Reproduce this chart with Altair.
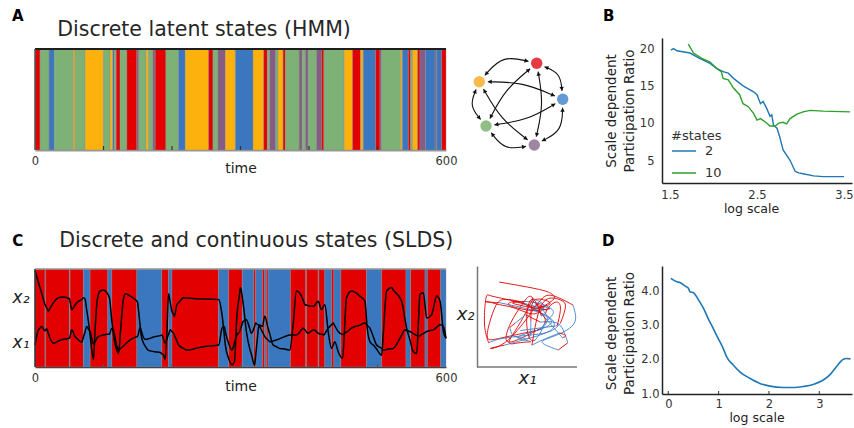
import math
import bisect
import altair as alt
import numpy as np
import pandas as pd

FONT = "DejaVu Sans"

# ---------------- Panel A : HMM discrete states ----------------
a_start = [0, 7.3, 20.5, 28.3, 56.1, 58.5, 73.1, 99.9, 109.7, 113.6, 116.0, 118.5, 124.3, 134.1,
           148.7, 151.6, 162.3, 165.7, 172.1, 175.5, 191.1, 209.6, 219.4, 253.5, 259.8, 267.1,
           277.9, 292.5, 318.3, 333.9, 339.3, 342.7, 351.5, 354.9, 362.2, 365.6, 385.6, 390.0,
           394.8, 398.7, 410.9, 418.2, 421.7, 451.4, 463.6, 475.3, 479.2, 497.2, 503.6, 506.0,
           533.8, 536.2, 545.0, 548.4, 551.3, 558.6, 562.0, 570.3, 584.0, 586.4, 593.7]
a_state = ["red", "green", "blue", "green", "orange", "green", "orange", "green", "orange", "blue",
           "green", "red", "green", "red", "purple", "green", "orange", "green", "purple", "red",
           "green", "blue", "orange", "red", "green", "purple", "orange", "blue", "orange", "red",
           "green", "purple", "green", "orange", "red", "green", "purple", "green", "purple", "green",
           "purple", "red", "green", "orange", "red", "orange", "blue", "red", "purple", "green",
           "orange", "blue", "red", "green", "orange", "red", "purple", "blue", "purple", "blue", "red"]
time_ticks = [100, 200, 300, 400, 500]

# graph of the 5 HMM states (layout positions)
node_name = ["orange", "red", "blue", "purple", "green"]
node_x = [-0.954, 0.194, 0.714, 0.146, -0.82]
node_y = [0.576, 0.944, 0.224, -0.69, -0.31]
edge_src = [0, 1, 2, 3, 4, 0, 0, 1, 1, 2]
edge_dst = [1, 2, 3, 4, 0, 2, 3, 3, 4, 4]

# ---------------- Panel B ----------------
b2_x = [1.51, 1.54, 1.58, 1.73, 1.84, 1.96, 2.04, 2.11, 2.17, 2.23, 2.34, 2.46, 2.50, 2.54, 2.57,
        2.61, 2.65, 2.67, 2.69, 2.73, 2.76, 2.80, 2.88, 2.94, 2.98, 3.03, 3.15, 3.26, 3.50]
b2_y = [19.9, 20.1, 19.8, 19.5, 18.8, 18.1, 17.4, 17.0, 16.8, 16.1, 15.1, 14.3, 13.9, 12.7, 13.0,
        12.1, 11.0, 11.2, 9.8, 9.4, 8.3, 6.5, 5.1, 3.6, 3.4, 3.3, 3.0, 2.9, 2.9]
b10_x = [1.71, 1.77, 1.81, 1.88, 1.96, 2.04, 2.09, 2.11, 2.17, 2.23, 2.30, 2.34, 2.40, 2.46, 2.50,
         2.54, 2.61, 2.65, 2.71, 2.75, 2.80, 2.84, 2.88, 2.96, 3.03, 3.11, 3.26, 3.57]
b10_y = [20.7, 19.5, 19.2, 18.7, 18.3, 17.4, 17.0, 16.1, 15.9, 14.8, 13.9, 12.7, 12.3, 11.4, 10.5,
         10.7, 10.1, 9.7, 9.7, 10.1, 10.2, 10.0, 10.7, 11.3, 11.6, 11.8, 11.7, 11.6]

# ---------------- Panel C : SLDS ----------------
c_start = [0, 14.6, 15.6, 50.2, 51.2, 70.7, 80.4, 106.3, 112.1, 148.7, 185.2, 195.0, 199.9, 268.1,
           282.7, 302.7, 319.3, 322.2, 332.0, 335.4, 337.8, 340.3, 372.9, 395.3, 396.3, 413.4,
           414.4, 423.1, 432.9, 436.3, 446.5, 484.1, 506.0, 541.6, 548.4, 569.4, 572.8, 592.3]
c_state = ["red", "blue"] * 19

lat_t = [0, 4.9, 7.3, 9.7, 14.6, 17.1, 19.5, 21.0, 26.8, 34.1, 41.4, 50.2, 53.6, 58.5, 60.9, 68.2,
         70.7, 73.1, 75.6,
         78.0, 80.4, 82.9, 85.3, 88.0, 91.0, 95.0, 100.0, 104.8, 108.7, 112.0, 115.0, 119.4, 122.0,
         125.0, 129.0, 132.0, 139.0, 146.2, 149.6, 152.0, 153.6, 155.0, 157.0, 160.9, 165.0, 170.6,
         175.0, 182.8, 185.2, 187.7, 190.1,
         192.6, 195.0, 197.4, 199.9, 202.3, 203.3,
         207.2, 209.6, 216.9, 221.8, 236.4, 246.2, 268.1, 273.0, 276.4, 277.9, 282.7, 287.6,
         291.0, 294.9, 298.8, 299.8, 301.3, 303.7, 304.7, 308.6, 313.4, 315.9, 320.7, 322.2,
         324.2, 327.1, 332.0, 335.4, 340.2, 342.7, 347.6, 352.4, 357.3, 364.6, 371.9, 376.8,
         381.7, 389.0, 391.4, 393.9, 398.7, 401.2, 407.0, 413.4, 418.2, 421.7, 423.1, 428.0,
         432.9, 435.3, 437.7, 442.6, 449.0, 454.8, 462.1, 474.3, 481.6, 485.0, 488.9, 493.8,
         498.7, 506.0, 508.4, 513.3, 520.6, 523.0, 535.2, 540.1, 542.5, 547.4, 552.3, 557.2,
         559.6, 562.0, 566.9, 571.8, 579.1, 581.5, 586.4, 591.3, 596.2, 600]
lat_x2 = [285, 251, 235, 219, 185, 175, 165, 170, 190, 205, 207, 202, 170, 183, 190, 200, 205, 200,
          167,
          135, 96, 50, 22, 120, 200, 225, 228, 220, 205, 140, 90, 50, 40, 110, 200, 217, 210, 200,
          192, 150, 120, 95, 78, 62, 50, 47, 45, 43, 39, 35, 22,
          105, 217, 192, 165, 155, 150, 185, 190, 205,
          204, 202, 201, 200, 155, 93, 65, 25, 7, 15, 155, 219, 235, 225, 190, 175, 105, 55, 38, 5,
          35, 75, 125, 120, 150, 115, 98, 65, 60, 55, 53, 50, 125, 225, 210, 198, 185, 182, 180,
          180, 195, 170, 181, 185, 105, 55, 65, 75, 45, 25, 205, 225, 210, 195, 115, 75, 65, 53, 35,
          97, 225, 235, 228, 195, 141, 115, 80, 45, 40, 128, 215, 220, 145, 155, 173, 210, 195, 105, 85]
lat_x1 = [65, 110, 115, 120, 107, 113, 99, 90, 70, 77, 82, 85, 110, 90, 85, 73, 89, 104, 120,
          112, 105, 85, 68, 75, 88, 92, 95, 97, 97, 115, 105, 62, 52, 55, 62, 68, 80, 88, 90, 108,
          118, 108, 95, 82, 83, 87, 90, 93, 95, 82, 70,
          84, 97, 110, 105, 100, 95, 77, 65, 55, 50, 56, 60,
          65, 115, 120, 104, 70, 50, 70, 95, 105, 111, 120, 135, 136, 140, 114, 100, 121, 130, 127,
          122, 104, 90, 80, 75, 77, 80, 84, 90, 95, 95, 95, 110, 115, 110, 100, 103, 110, 100, 97,
          95, 99, 115, 125, 130, 122, 105, 96, 103, 115, 124, 130, 123, 115, 90, 65, 55, 50, 52,
          54, 55, 94, 110, 108, 105, 99, 93, 90, 93, 99, 105, 109, 110, 118, 125, 120, 85]

# ---------------- Panel D ----------------
d_x = [0.05, 0.17, 0.23, 0.33, 0.40, 0.43, 0.50, 0.60, 0.70, 0.79, 0.89, 0.99, 1.09, 1.16, 1.29,
       1.42, 1.62, 1.82, 2.02, 2.28, 2.48, 2.68, 2.88, 3.08, 3.21, 3.34, 3.48, 3.54, 3.62]
d_y = [4.39, 4.29, 4.27, 4.17, 4.10, 4.00, 3.97, 3.76, 3.51, 3.22, 2.93, 2.63, 2.34, 2.09, 1.85,
       1.65, 1.46, 1.31, 1.23, 1.19, 1.19, 1.22, 1.28, 1.41, 1.56, 1.80, 2.02, 2.04, 2.03]

# ---------------- styles ----------------
HMM_COLORS = {"red": "#e50000", "blue": "#3a77bf", "green": "#7eb176",
              "orange": "#fdb10d", "purple": "#845d84"}
NODE_COLORS = {"orange": "#f8b640", "red": "#e6303a", "blue": "#5d94d2",
               "purple": "#9a80a0", "green": "#8bbb80"}
SLDS_COLORS = {"red": "#e30000", "blue": "#3a77bf"}
PHASE_COLORS = {"red": "#e00000", "blue": "#3f7fc8"}
BLUE, GREEN = "#1f77b4", "#2ca02c"

W1, W2, W3 = 411, 154, 190     # column widths (column 2 includes the gap before column 3)
PW = 100                        # visible width of the phase-plot axes
HA, HB, HC, HD = 112, 145, 101, 128


def text_layer(txt, x, y, size, weight="normal", color="#222"):
    return alt.Chart(pd.DataFrame({"label": [txt]})).mark_text(
        align="left", baseline="alphabetic", fontSize=size, fontWeight=weight,
        font=FONT, color=color).encode(text="label:N", x=alt.value(x), y=alt.value(y))


def time_axis(title_y, dcolor, dwidth):
    return alt.Axis(values=[0, 600], title="time", labelFlush=False, ticks=False, grid=False,
                    labelPadding=5, labelFontSize=11.5, titleFontSize=14,
                    titleBaseline="alphabetic", titleY=title_y,
                    domainColor=dcolor, domainWidth=dwidth)

# ---------------- build panel A ----------------
a_df = pd.DataFrame({"start": a_start, "end": a_start[1:] + [600], "state": a_state})
a_df["fill"] = a_df["state"].map(HMM_COLORS)
a_df["lo"] = 0.0
a_df["hi"] = 1.0
strip_a = alt.Chart(a_df).mark_rect(stroke="#8c8c8c", strokeWidth=0.4).encode(
    x=alt.X("start:Q", scale=alt.Scale(domain=[0, 600], nice=False, zero=False),
            axis=time_axis(22.5, "#9a9a9a", 2)),
    x2="end:Q",
    y=alt.Y("lo:Q", scale=alt.Scale(domain=[0, HA / 101], nice=False, zero=False), axis=None),
    y2="hi:Q",
    fill=alt.Fill("fill:N", scale=None))
frame_a = pd.DataFrame({"x": [0], "x2": [600], "y": [1.0], "y0": [0.0]})
top_a = alt.Chart(frame_a).mark_rule(color="#1e1e1e", strokeWidth=2).encode(x="x:Q", x2="x2:Q", y="y:Q")
left_a = alt.Chart(frame_a).mark_rule(color="#555", strokeWidth=1.5).encode(x="x:Q", y="y0:Q", y2="y:Q")
ticks_a = alt.Chart(pd.DataFrame({"t": time_ticks})).mark_rule(color="#333", strokeWidth=1.2).encode(
    x="t:Q", y=alt.value(HA), y2=alt.value(HA - 4))
panel_a = alt.layer(strip_a, top_a, left_a, ticks_a,
                    text_layer("A", -23, -17.3, 15, "bold", "#000"),
                    text_layer("Discrete latent states (HMM)", 22.3, -2, 20.5, "normal", "#262626")
                    ).properties(width=W1, height=HA)

# ---------------- graph panel ----------------
R_NODE = 0.17
cxm, cym = float(np.mean(node_x)), float(np.mean(node_y))
edge_rows, arrow_rows = [], []
for e, (i, j) in enumerate(zip(edge_src, edge_dst)):
    adjacent = (j - i) % 5 in (1, 4)
    bend = 0.3 if adjacent else 0.1
    p0 = np.array([node_x[i], node_y[i]])
    p1 = np.array([node_x[j], node_y[j]])
    m = (p0 + p1) / 2
    d = p1 - p0
    L = float(np.hypot(*d))
    n = np.array([-d[1], d[0]]) / L
    if np.dot(n, m - np.array([cxm, cym])) < 0:
        n = -n
    c = m + n * bend * L
    s = p0 + (c - p0) / np.linalg.norm(c - p0) * R_NODE
    t_ = p1 + (c - p1) / np.linalg.norm(c - p1) * R_NODE
    for k, p in enumerate([s, c, t_]):
        edge_rows.append({"edge": e, "k": k, "x": p[0], "y": p[1]})
    for tip, frm in [(s, c), (t_, c)]:
        v = tip - frm
        v = v / np.linalg.norm(v)
        pos = tip - v * 0.04
        ang = math.degrees(math.atan2(v[0], v[1])) % 360
        arrow_rows.append({"x": pos[0], "y": pos[1], "ang": ang})
edge_df = pd.DataFrame(edge_rows)
arrow_df = pd.DataFrame(arrow_rows)
node_df = pd.DataFrame({"x": node_x, "y": node_y, "name": node_name})
node_df["fill"] = node_df["name"].map(NODE_COLORS)
gx = alt.X("x:Q", scale=alt.Scale(domain=[-1, -1 + W2 / 50], nice=False, zero=False), axis=None)
gy = alt.Y("y:Q", scale=alt.Scale(domain=[-1.45, 1.45], nice=False, zero=False), axis=None)
edges = alt.Chart(edge_df).mark_line(color="#111", strokeWidth=1.1, interpolate="basis").encode(
    x=gx, y=gy, detail="edge:N", order="k:Q")
arrows = alt.Chart(arrow_df).mark_point(shape="triangle-up", filled=True, size=20, color="#111",
                                        opacity=1).encode(x="x:Q", y="y:Q", angle=alt.Angle("ang:Q", scale=None))
nodes = alt.Chart(node_df).mark_circle(size=130, opacity=0.95).encode(
    x="x:Q", y="y:Q", fill=alt.Fill("fill:N", scale=None))
panel_g = alt.layer(edges, nodes, arrows).properties(width=W2, height=HB)

# ---------------- panel B ----------------
b_df = pd.concat([pd.DataFrame({"x": b2_x, "y": b2_y, "states": "2"}),
                  pd.DataFrame({"x": b10_x, "y": b10_y, "states": "10"})])
legend_b = alt.Legend(title="#states", orient="none", legendX=9, legendY=92, symbolType="stroke",
                      symbolSize=576, symbolStrokeWidth=1.5, labelFontSize=13, titleFontSize=13,
                      titleFontWeight="normal", titleColor="#333", labelColor="#333", rowPadding=2,
                      labelOffset=8, titlePadding=-5, padding=0, labelFont=FONT, titleFont=FONT)
y_title = ["Scale dependent", "Participation Ratio"]
lines_b = alt.Chart(b_df).mark_line(strokeWidth=1.4).encode(
    x=alt.X("x:Q", scale=alt.Scale(domain=[1.408, 3.592], nice=False, zero=False),
            axis=alt.Axis(values=[1.5, 2.5, 3.5], format=".1f", labelFlush=False, ticks=False,
                          grid=False, domainColor="#222", domainWidth=1.5, labelPadding=6,
                          labelFontSize=11.5, title="log scale", titleFontSize=12.5,
                          titleBaseline="alphabetic", titleY=29.5, titleX=89)),
    y=alt.Y("y:Q", scale=alt.Scale(domain=[2.05, 21.52], nice=False, zero=False),
            axis=alt.Axis(values=[5, 10, 15, 20], ticks=False, grid=False, domainColor="#222",
                          domainWidth=1.5, labelPadding=8, labelFontSize=11.5, title=y_title,
                          titleFontSize=13.5, titleLineHeight=18, titleAngle=270,
                          titleAlign="center", titleBaseline="alphabetic", titleX=-47, titleY=72.5)),
    color=alt.Color("states:N", scale=alt.Scale(domain=["2", "10"], range=[BLUE, GREEN]), legend=legend_b),
    detail="states:N")
panel_b = alt.layer(lines_b, text_layer("B", -59, -17.3, 15, "bold", "#000")).properties(width=W3, height=HB)

# ---------------- panel C ----------------
c_df = pd.DataFrame({"start": c_start, "end": c_start[1:] + [600], "state": c_state})
c_df["fill"] = c_df["state"].map(SLDS_COLORS)
c_df["lo"] = 0.0
c_df["hi"] = 290.0
strip_c = alt.Chart(c_df).mark_rect(stroke="#8c8c8c", strokeWidth=0.4).encode(
    x=alt.X("start:Q", scale=alt.Scale(domain=[0, 600], nice=False, zero=False),
            axis=time_axis(23, "#333", 1.5)),
    x2="end:Q",
    y=alt.Y("lo:Q", scale=alt.Scale(domain=[0, 299], nice=False, zero=False),
            axis=alt.Axis(values=[74, 207], labelExpr="datum.value > 150 ? 'x₂' : 'x₁'",
                          labelFontStyle="italic", labelFontSize=17, labelColor="#222",
                          ticks=False, domain=False, grid=False, labelPadding=6, title=None)),
    y2="hi:Q",
    fill=alt.Fill("fill:N", scale=None))
lat_df = pd.concat([pd.DataFrame({"t": lat_t, "v": lat_x2, "series": "x2"}),
                    pd.DataFrame({"t": lat_t, "v": lat_x1, "series": "x1"})])
lines_c = alt.Chart(lat_df).mark_line(color="#000", strokeWidth=1.5, interpolate="monotone").encode(
    x="t:Q", y="v:Q", detail="series:N")
frame_c = pd.DataFrame({"x": [0], "x2": [600], "y": [290.0], "y0": [0.0]})
top_c = alt.Chart(frame_c).mark_rule(color="#9a9a9a", strokeWidth=1.5).encode(x="x:Q", x2="x2:Q", y="y:Q")
left_c = alt.Chart(frame_c).mark_rule(color="#333", strokeWidth=1.5).encode(x="x:Q", y="y0:Q", y2="y:Q")
ticks_c = alt.Chart(pd.DataFrame({"t": time_ticks})).mark_rule(color="#555", strokeWidth=1).encode(
    x="t:Q", y=alt.value(HC), y2=alt.value(HC - 3))
panel_c = alt.layer(strip_c, lines_c, top_c, left_c, ticks_c,
                    text_layer("C", -22.7, -20.3, 15, "bold", "#000"),
                    text_layer("Discrete and continuous states (SLDS)", 24.3, -19.3, 20.5, "normal", "#262626")
                    ).properties(width=W1, height=HC)

# ---------------- phase panel ----------------
pt_state = [c_state[bisect.bisect_right(c_start, tt) - 1] for tt in lat_t]
rows = []
run = 0
for i in range(len(lat_t)):
    if i > 0 and pt_state[i] != pt_state[i - 1]:
        rows.append({"run": run, "k": i, "x1": lat_x1[i], "x2": lat_x2[i], "state": pt_state[i - 1]})
        run += 1
    rows.append({"run": run, "k": i, "x1": lat_x1[i], "x2": lat_x2[i], "state": pt_state[i]})
ph_df = pd.DataFrame(rows)
ph_df["col"] = ph_df["state"].map(PHASE_COLORS)
x1_per_px = 0.947
phase_lines = alt.Chart(ph_df).mark_line(strokeWidth=0.9, interpolate="basis").encode(
    x=alt.X("x1:Q", scale=alt.Scale(domain=[44, 44 + W2 * x1_per_px], nice=False, zero=False),
            axis=alt.Axis(labels=False, ticks=False, grid=False, domain=False,
                          title="x₁", titleFontStyle="italic", titleFontSize=18,
                          titleBaseline="alphabetic", titleY=16, titleX=PW / 2,
                          titleAlign="center", titleColor="#222")),
    y=alt.Y("x2:Q", scale=alt.Scale(domain=[-65, 351], nice=False, zero=False),
            axis=alt.Axis(labels=False, ticks=False, grid=False, domainColor="#777", domainWidth=1.5,
                          title="x₂", titleFontStyle="italic", titleFontSize=18, titleAngle=0,
                          titleAlign="right", titleBaseline="middle", titleX=-3, titleY=48,
                          titleColor="#222")),
    detail="run:N", order="k:Q",
    stroke=alt.Stroke("col:N", scale=None))
phase_base = alt.Chart(pd.DataFrame({"k": [0]})).mark_rule(color="#777", strokeWidth=1.5).encode(
    x=alt.value(0), x2=alt.value(PW), y=alt.value(HC))
panel_p = alt.layer(phase_lines, phase_base).properties(width=W2, height=HC)

# ---------------- panel D ----------------
d_df = pd.DataFrame({"x": d_x, "y": d_y})
line_d = alt.Chart(d_df).mark_line(color=BLUE, strokeWidth=1.6, interpolate="monotone").encode(
    x=alt.X("x:Q", scale=alt.Scale(domain=[-0.125, 3.65], nice=False, zero=False),
            axis=alt.Axis(values=[0, 1, 2, 3], format="d", labelFlush=False, ticks=False, grid=False,
                          domainColor="#222", domainWidth=1.5, labelPadding=4.5, labelFontSize=11.5,
                          title="log scale", titleFontSize=12.5, titleBaseline="alphabetic",
                          titleY=27, titleX=94.5)),
    y=alt.Y("y:Q", scale=alt.Scale(domain=[1.0, 4.754], nice=False, zero=False),
            axis=alt.Axis(values=[1, 2, 3, 4], format=".1f", ticks=False, grid=False,
                          domainColor="#222", domainWidth=1.5, labelPadding=3, labelFontSize=11.5,
                          title=y_title, titleFontSize=13.5, titleLineHeight=18, titleAngle=270,
                          titleAlign="center", titleBaseline="alphabetic", titleX=-47, titleY=67)))
ticks_d = alt.Chart(pd.DataFrame({"t": [0, 1, 2, 3]})).mark_rule(color="#333", strokeWidth=1).encode(
    x="t:Q", y=alt.value(HD), y2=alt.value(HD - 3))
panel_d = alt.layer(line_d, ticks_d, text_layer("D", -60, -20.3, 15, "bold", "#000")).properties(width=W3, height=HD)

# ---------------- layout ----------------
chart = alt.concat(panel_a, panel_g, panel_b, panel_c, panel_p, panel_d, columns=3,
                   spacing={"row": 83, "column": 31}, bounds="flush", align="each"
                   ).resolve_scale(color="independent").properties(
    autosize=alt.AutoSizeParams(type="none"),
    padding={"left": 35, "top": 38, "right": 819, "bottom": 390},
).configure(font=FONT).configure_view(stroke=None).configure_axis(
    labelFont=FONT, titleFont=FONT, labelColor="#333", titleColor="#222", titleFontWeight="normal")

chart.save("out.html", embed_options={"renderer": "svg", "actions": False})
